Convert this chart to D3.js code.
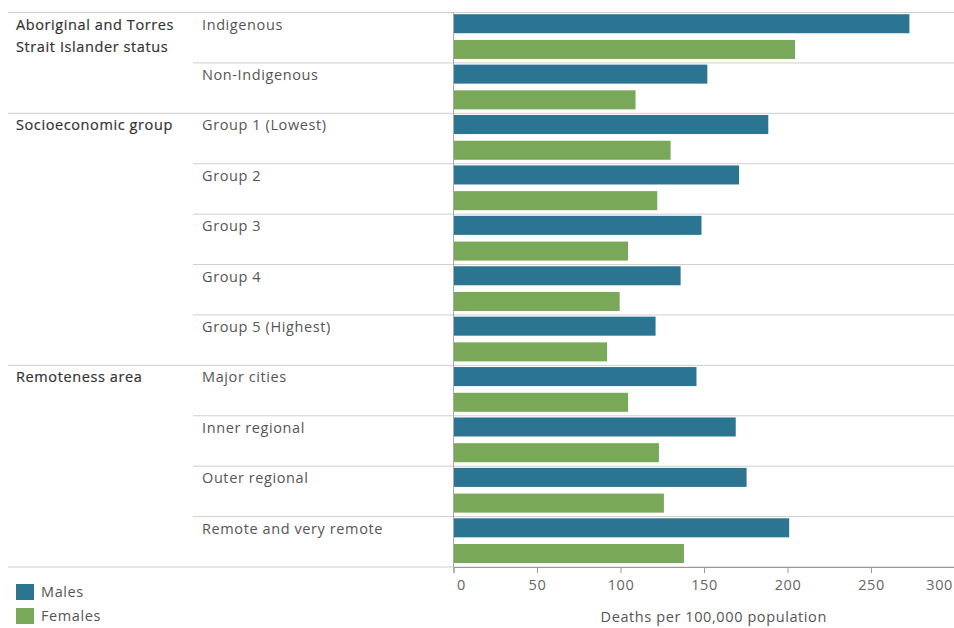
<!DOCTYPE html>
<html><head><meta charset="utf-8">
<script src="https://cdn.jsdelivr.net/npm/d3@7"></script>
<style>
body{margin:0;background:#fff;}
text{font-family:"Open Sans",sans-serif;letter-spacing:0.6px;}
</style></head>
<body><svg id="c" width="954" height="628"></svg>
<script>
const groups = ["Aboriginal and Torres Strait Islander status","Socioeconomic group","Remoteness area"];
const categories = ["Indigenous","Non-Indigenous","Group 1 (Lowest)","Group 2","Group 3","Group 4","Group 5 (Highest)","Major cities","Inner regional","Outer regional","Remote and very remote"];
const categoryGroup = [0,0,1,1,1,1,1,2,2,2,2];
const males =   [273, 152, 188.5, 171, 148.5, 136, 121, 145.5, 169, 175.5, 201];
const females = [204.5, 109, 130, 122, 104.5, 99.5, 92, 104.5, 123, 126, 138];
const series = ["Males","Females"];
const colors = ["#2b7592","#79a858"];
const xTicks = [0,50,100,150,200,250,300];
const axisTitle = "Deaths per 100,000 population";

const svg = d3.select("#c");
const x = d3.scaleLinear().domain([0,300]).range([453.5,954.5]);
const y = d3.scaleBand().domain(categories).range([12.5,567]).padding(0);
const sub = d3.scaleBand().domain(series).range([0,y.bandwidth()]).paddingInner(0.26).paddingOuter(0.11).align(0.3);
const gridColor = "#cfcfcf";
const fs = 14.5;

// row separators
categories.forEach((c,i)=>{
  const isGroupStart = i===0 || categoryGroup[i]!==categoryGroup[i-1];
  svg.append("line").attr("x1", isGroupStart?8:193).attr("x2",954)
    .attr("y1", y(c)).attr("y2", y(c)).attr("stroke",gridColor).attr("stroke-width",1);
});
svg.append("line").attr("x1",8).attr("x2",954).attr("y1",y.range()[1]).attr("y2",y.range()[1]).attr("stroke",gridColor);

// bars
const data = [];
categories.forEach((c,i)=>{ data.push({c, s:"Males", v:males[i]}); data.push({c, s:"Females", v:females[i]}); });
svg.append("g").selectAll("rect").data(data).join("rect")
  .attr("x", x(0)).attr("y", d=>y(d.c)+sub(d.s))
  .attr("width", d=>x(d.v)-x(0)).attr("height", sub.bandwidth())
  .attr("fill", d=>colors[series.indexOf(d.s)]);

// zero line
svg.append("line").attr("x1",x(0)).attr("x2",x(0)).attr("y1",y.range()[0]).attr("y2",y.range()[1]).attr("stroke","#aaa");

// category labels
svg.append("g").selectAll("text").data(categories).join("text")
  .attr("x",202).attr("y", d=>y(d)+17).attr("font-size",fs).attr("fill","#555").text(d=>d);

// group labels
groups.forEach((g,gi)=>{
  const first = categories[categoryGroup.indexOf(gi)];
  const t = svg.append("text").attr("x",16).attr("y",y(first)+17).attr("font-size",fs)
    .attr("fill","#333").attr("stroke","#333").attr("stroke-width",0.2);
  if(gi===0){
    t.append("tspan").attr("x",16).text("Aboriginal and Torres");
    t.append("tspan").attr("x",16).attr("dy",22).text("Strait Islander status");
  } else t.text(g);
});

// axis
const axis = d3.axisBottom(x).tickValues(xTicks).tickSize(6).tickPadding(7);
const ag = svg.append("g").attr("transform",`translate(0,${y.range()[1]})`).call(axis);
ag.select(".domain").attr("stroke","#999");
ag.selectAll(".tick line").attr("stroke","#999");
ag.selectAll(".tick text").attr("font-size",fs).attr("fill","#666")
  .attr("font-family","Open Sans, sans-serif")
  .attr("text-anchor",(d,i)=> i===0?"start": (i===xTicks.length-1?"end":"middle"))
  .attr("dx",(d,i)=> i===0?3:(i===xTicks.length-1?-2:0));
svg.append("text").attr("x",(x(0)+954)/2+10).attr("y",622).attr("text-anchor","middle")
  .attr("font-size",fs).attr("fill","#555").text(axisTitle);

// legend
series.forEach((s,i)=>{
  svg.append("rect").attr("x",16).attr("y",584+i*24).attr("width",18).attr("height",16).attr("fill",colors[i]);
  svg.append("text").attr("x",41).attr("y",597+i*24).attr("font-size",fs).attr("fill","#555").text(s);
});
</script></body></html>
